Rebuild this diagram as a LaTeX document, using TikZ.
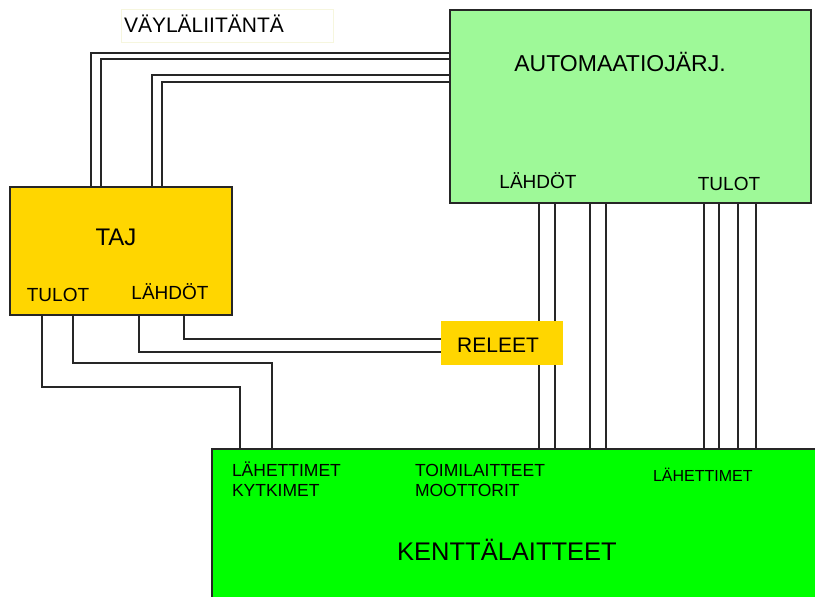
\documentclass[tikz,border=0pt]{standalone}
\usepackage{fontspec}
\setmainfont{Liberation Sans}
\usetikzlibrary{backgrounds}
\definecolor{autgreen}{RGB}{158,249,152}
\definecolor{tajgold}{RGB}{255,214,0}
\definecolor{kengreen}{RGB}{0,255,0}
\definecolor{linec}{RGB}{38,38,38}
\definecolor{vayedge}{RGB}{246,246,222}
\begin{document}
\begin{tikzpicture}[x=1pt,y=-1pt,
  boxnode/.style={draw=linec, line width=1.5pt, anchor=north west, inner sep=0pt, outer sep=0pt},
  wire/.style={draw=linec, line width=1.4pt},
  lbl/.style={inner sep=0pt, outer sep=0pt, text=black},
  fs/.style={font=\fontsize{#1}{#1}\selectfont}]
\useasboundingbox (0,0) rectangle (815,597);
\clip (0,0) rectangle (815,597);

% boxes
\node[anchor=north west, inner sep=0pt, draw=vayedge, line width=1pt, minimum width=212pt, minimum height=33pt] (vay) at (121,9) {};
\node[boxnode, fill=autgreen, minimum width=361pt, minimum height=193pt] (aut) at (450,10) {};
\node[boxnode, fill=tajgold, minimum width=222pt, minimum height=128pt] (taj) at (10,187) {};
\node[anchor=north west, inner sep=0pt, fill=tajgold, minimum width=122pt, minimum height=44pt] (rel) at (441,321) {};
\node[boxnode, fill=kengreen, minimum width=620pt, minimum height=170pt] (ken) at (212,449) {};

% labels
\node[lbl, fs=21, anchor=base west] (vayt) at (124,32.3) {VÄYLÄLIITÄNTÄ};
\node[lbl, fs=23, anchor=base] (autt) at (620,71) {AUTOMAATIOJÄRJ.};
\node[lbl, fs=19, anchor=base] (autl) at (538,188) {LÄHDÖT};
\node[lbl, fs=19, anchor=base] (autr) at (729,190) {TULOT};
\node[lbl, fs=24, anchor=base] (tajt) at (116,245.5) {TAJ};
\node[lbl, fs=19, anchor=base] (tajl) at (58,301.5) {TULOT};
\node[lbl, fs=19, anchor=base] (tajr) at (170,299) {LÄHDÖT};
\node[lbl, fs=21, anchor=base] (relt) at (498,352.3) {RELEET};
\node[lbl, fs=25.5, anchor=base] (kent) at (507,560) {KENTTÄLAITTEET};
\node[lbl, fs=17.5, anchor=base west] (ken1a) at (232,476) {LÄHETTIMET};
\node[lbl, fs=17.5, anchor=base west] (ken1b) at (232,496) {KYTKIMET};
\node[lbl, fs=17.5, anchor=base west] (ken2a) at (415,476) {TOIMILAITTEET};
\node[lbl, fs=17.5, anchor=base west] (ken2b) at (415,496) {MOOTTORIT};
\node[lbl, fs=16, anchor=base west] (ken3) at (653,481) {LÄHETTIMET};

% connectors
\begin{scope}[on background layer]
\draw[wire] ([xshift=81pt]taj.north west) |- ([yshift=-43pt]aut.north west);
\draw[wire] ([xshift=91pt]taj.north west) |- ([yshift=-49pt]aut.north west);
\draw[wire] ([xshift=142pt]taj.north west) |- ([yshift=-65pt]aut.north west);
\draw[wire] ([xshift=152pt]taj.north west) |- ([yshift=-72pt]aut.north west);
\draw[wire] ([xshift=32pt]taj.south west) -- ++(0,72) -| ([xshift=28pt]ken.north west);
\draw[wire] ([xshift=63pt]taj.south west) -- ++(0,48) -| ([xshift=60pt]ken.north west);
\draw[wire] ([xshift=129pt]taj.south west) |- ([yshift=-31pt]rel.north west);
\draw[wire] ([xshift=174pt]taj.south west) |- ([yshift=-18pt]rel.north west);
\foreach \d in {89,105,140,156,254,269,288,306}
  \draw[wire] ([xshift=\d pt]aut.south west) -- ([xshift=\d pt]aut.south west |- ken.north);
\end{scope}
\end{tikzpicture}
\end{document}
